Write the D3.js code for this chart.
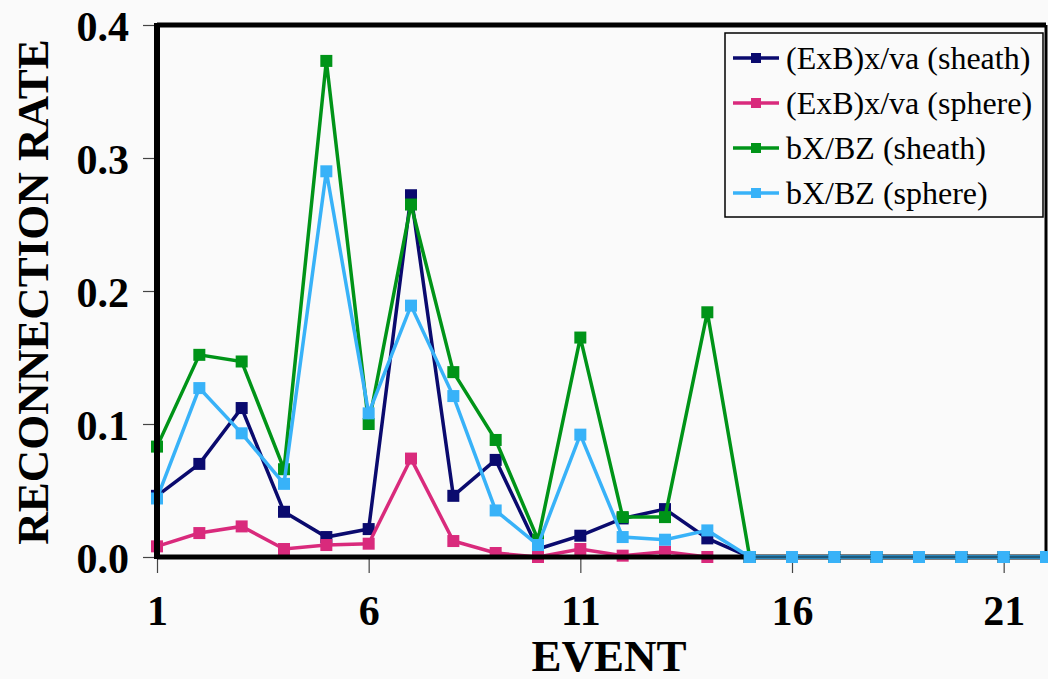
<!DOCTYPE html>
<html>
<head>
<meta charset="utf-8">
<script src="https://cdn.jsdelivr.net/npm/d3@7"></script>
<style>
  body { margin: 0; background: #fafafa; }
  svg { display: block; }
  .tickText { font-family: "Liberation Serif", "DejaVu Serif", serif; font-weight: bold; font-size: 42px; fill: #000; }
  .axisTitle { font-family: "Liberation Serif", "DejaVu Serif", serif; font-weight: bold; font-size: 45px; fill: #000; }
  .legendText { font-family: "Liberation Serif", "DejaVu Serif", serif; font-size: 32px; fill: #000; }
</style>
</head>
<body>
<div id="chart"></div>
<script>
// Event numbers along the x axis
var events = [1, 2, 3, 4, 5, 6, 7, 8, 9, 10, 11, 12, 13, 14, 15, 16, 17, 18, 19, 20, 21, 22];
var xTickValues = [1, 6, 11, 16, 21];
var yTickValues = [0, 0.1, 0.2, 0.3, 0.4];

// Series values
var exbSheath = [0.046, 0.070, 0.112, 0.034, 0.015, 0.021, 0.272, 0.046, 0.073, 0.006, 0.016, 0.029, 0.036, 0.014, 0, 0, 0, 0, 0, 0, 0, 0];
var exbSphere = [0.008, 0.018, 0.023, 0.006, 0.009, 0.010, 0.074, 0.012, 0.003, 0.000, 0.006, 0.001, 0.004, 0.000, 0, 0, 0, 0, 0, 0, 0, 0];
var bxSheath  = [0.083, 0.152, 0.147, 0.066, 0.373, 0.100, 0.265, 0.139, 0.088, 0.013, 0.165, 0.030, 0.030, 0.184, 0, 0, 0, 0, 0, 0, 0, 0];
var bxSphere  = [0.044, 0.127, 0.093, 0.055, 0.290, 0.108, 0.189, 0.121, 0.035, 0.009, 0.092, 0.015, 0.013, 0.020, 0, 0, 0, 0, 0, 0, 0, 0];

var seriesNames = ["(ExB)x/va (sheath)", "(ExB)x/va (sphere)", "bX/BZ (sheath)", "bX/BZ (sphere)"];
var seriesColors = ["#0a0a6e", "#d92a7c", "#009418", "#38b2f8"];
var seriesValues = [exbSheath, exbSphere, bxSheath, bxSphere];

var svgWidth = 1048;
var svgHeight = 679;

var margin = { top: 25, right: 2, bottom: 122, left: 157 };
var chartWidth = svgWidth - margin.left - margin.right;
var chartHeight = svgHeight - margin.top - margin.bottom;

var svg = d3.select("#chart")
    .append("svg")
    .attr("width", svgWidth)
    .attr("height", svgHeight);

svg.append("rect")
    .attr("width", svgWidth)
    .attr("height", svgHeight)
    .attr("fill", "#fafafa");

var chartGroup = svg.append("g")
    .attr("transform", `translate(${margin.left}, ${margin.top})`);

var xScale = d3.scaleLinear()
    .domain([1, 22])
    .range([0, chartWidth]);

var yScale = d3.scaleLinear()
    .domain([0, 0.4])
    .range([chartHeight, 0]);

// plot area frame (top and right)
chartGroup.append("line")
    .attr("x1", 0).attr("x2", chartWidth)
    .attr("y1", 0).attr("y2", 0)
    .attr("stroke", "#000").attr("stroke-width", 5);
chartGroup.append("line")
    .attr("x1", chartWidth).attr("x2", chartWidth)
    .attr("y1", 0).attr("y2", chartHeight)
    .attr("stroke", "#000").attr("stroke-width", 3);

// axes
var bottomAxis = d3.axisBottom(xScale)
    .tickValues(xTickValues)
    .tickSize(16)
    .tickPadding(22)
    .tickFormat(d3.format("d"));

var leftAxis = d3.axisLeft(yScale)
    .tickValues(yTickValues)
    .tickSize(14)
    .tickPadding(14)
    .tickFormat(d3.format(".1f"));

var xAxisG = chartGroup.append("g")
    .attr("transform", `translate(0, ${chartHeight})`)
    .call(bottomAxis);

var yAxisG = chartGroup.append("g")
    .call(leftAxis);

[xAxisG, yAxisG].forEach(function(g) {
    g.select(".domain").remove();
    g.selectAll(".tick line").attr("stroke", "#444").attr("stroke-width", 1.2);
    g.selectAll(".tick text").attr("class", "tickText").attr("fill", "#000");
});
yAxisG.selectAll(".tick text").attr("dy", "0.36em");
xAxisG.selectAll(".tick text").attr("dy", "0.72em");

// lines and markers
var line = d3.line()
    .x(function(d, i) { return xScale(events[i]); })
    .y(function(d) { return yScale(d); });

seriesValues.forEach(function(vals, k) {
    chartGroup.append("path")
        .datum(vals)
        .attr("d", line)
        .attr("fill", "none")
        .attr("stroke", seriesColors[k])
        .attr("stroke-width", 3.5)
        .attr("stroke-linejoin", "miter");

    chartGroup.selectAll(".m" + k)
        .data(vals)
        .enter()
        .append("rect")
        .attr("class", "m" + k)
        .attr("x", function(d, i) { return xScale(events[i]) - 6; })
        .attr("y", function(d) { return yScale(d) - 6; })
        .attr("width", 12)
        .attr("height", 12)
        .attr("fill", seriesColors[k]);
});

// thick axis lines on top
chartGroup.append("line")
    .attr("x1", 0).attr("x2", 0)
    .attr("y1", -2).attr("y2", chartHeight + 2)
    .attr("stroke", "#000").attr("stroke-width", 6);
chartGroup.append("line")
    .attr("x1", 0).attr("x2", chartWidth)
    .attr("y1", chartHeight).attr("y2", chartHeight)
    .attr("stroke", "#000").attr("stroke-width", 5);

// redraw the zero-valued tail of the last series over the axis
chartGroup.append("path")
    .datum(bxSphere.slice(14))
    .attr("d", d3.line()
        .x(function(d, i) { return xScale(events[i + 14]); })
        .y(function(d) { return yScale(d); }))
    .attr("fill", "none")
    .attr("stroke", seriesColors[3])
    .attr("stroke-width", 3.5);
chartGroup.append("line")
    .attr("x1", xScale(15)).attr("x2", chartWidth)
    .attr("y1", chartHeight).attr("y2", chartHeight)
    .attr("stroke", "#000").attr("stroke-width", 1.2);
chartGroup.selectAll(".tail")
    .data(bxSphere.slice(14))
    .enter()
    .append("rect")
    .attr("class", "tail")
    .attr("x", function(d, i) { return xScale(events[i + 14]) - 6; })
    .attr("y", function(d) { return yScale(d) - 6; })
    .attr("width", 12)
    .attr("height", 12)
    .attr("fill", seriesColors[3]);

// axis titles
svg.append("text")
    .attr("class", "axisTitle")
    .attr("transform", `translate(48, 292) rotate(-90)`)
    .attr("text-anchor", "middle")
    .text("RECONNECTION RATE");

svg.append("text")
    .attr("class", "axisTitle")
    .attr("x", 609)
    .attr("y", 671)
    .attr("text-anchor", "middle")
    .text("EVENT");

// legend
var legend = svg.append("g")
    .attr("transform", "translate(725, 33)");

legend.append("rect")
    .attr("width", 318)
    .attr("height", 184)
    .attr("fill", "#fafafa")
    .attr("stroke", "#000")
    .attr("stroke-width", 1.5);

seriesNames.forEach(function(name, k) {
    var yy = 25 + k * 45;
    legend.append("line")
        .attr("x1", 8).attr("x2", 54)
        .attr("y1", yy).attr("y2", yy)
        .attr("stroke", seriesColors[k])
        .attr("stroke-width", 3.5);
    legend.append("rect")
        .attr("x", 26).attr("y", yy - 5)
        .attr("width", 10).attr("height", 10)
        .attr("fill", seriesColors[k]);
    legend.append("text")
        .attr("class", "legendText")
        .attr("x", 61)
        .attr("y", yy + 11)
        .text(name);
});
</script>
</body>
</html>
